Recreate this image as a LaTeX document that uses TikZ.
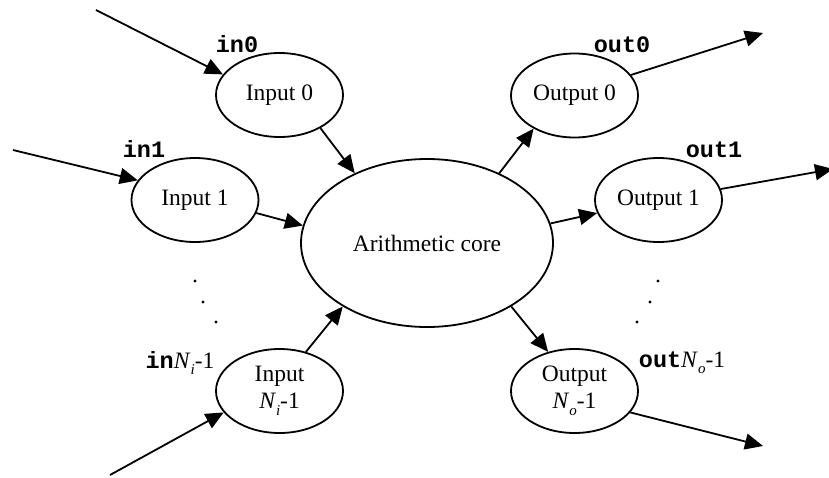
\documentclass[tikz,border=0pt]{standalone}
\usepackage{fontspec}
\setmainfont{Liberation Serif}
\newfontfamily\codefont{Liberation Mono}
\usetikzlibrary{shapes.geometric,arrows.meta}

% subscript set by hand so it scales with the large body text
\newcommand{\subidx}[1]{\raisebox{-0.28em}{\fontsize{15}{15}\selectfont\itshape #1}}
\newcommand{\code}[1]{{\codefont\bfseries #1}}

\begin{document}
\begin{tikzpicture}[x=1pt,y=-1pt,
  every node/.style={font=\fontsize{23.5}{27}\selectfont},
  unit/.style={ellipse,draw,line width=1.8pt,minimum width=127pt,minimum height=84pt,inner sep=0pt,align=center},
  core/.style={unit,minimum width=252pt,minimum height=168pt},
  arr/.style={line width=1.8pt,-{Triangle[length=18pt,width=16pt]}},
  port/.style={anchor=base,inner sep=0pt},
  dotmark/.style={circle,fill,inner sep=0pt,minimum size=3.4pt}]

\useasboundingbox (0,0) rectangle (829,477);

% processing units
\node[core] (core) at (427,243) {Arithmetic core};
\node[unit] (i0) at (279.5,95)  {Input 0};
\node[unit] (i1) at (195,200)   {Input 1};
\node[unit] (iN) at (279.5,391) {Input\\\textit{N}\subidx{i}-1};
\node[unit] (o0) at (574.5,95.5) {Output 0};
\node[unit] (o1) at (658.5,200)  {Output 1};
\node[unit] (oN) at (574.5,391)  {Output\\\textit{N}\subidx{o}-1};

% free ends of the port connectors
\coordinate (s0) at (96,10);
\coordinate (s1) at (13,150);
\coordinate (sN) at (110,475);
\coordinate (t0) at (763,33);
\coordinate (t1) at (833,169);
\coordinate (tN) at (763,446);

% ports
\draw[arr] (s0) -- (i0.160);
\draw[arr] (s1) -- (i1.161);
\draw[arr] (sN) -- (iN.201.6);
\draw[arr] (o0.20.8) -- (t0);
\draw[arr] (o1.10.1) -- (t1);
\draw[arr] (oN.-21.3) -- (tN);

% data flow through the core
\draw[arr] (i0.-39) -- (core.136);
\draw[arr] (i1.-12.9) -- (core.172.3);
\draw[arr] (iN.56.5) -- (core.217.8);
\draw[arr] (core.44.6) -- (o0.219);
\draw[arr] (core.9.2) -- (o1.192.6);
\draw[arr] (core.-37.7) -- (oN.124.2);

% port names
\node[port] (l0) at (237,52)  {\code{in0}};
\node[port] (l1) at (144,157) {\code{in1}};
\node[port] (lN) at (180,368) {\code{in}\textit{N}\subidx{i}-1};
\node[port] (m0) at (622,52)  {\code{out0}};
\node[port] (m1) at (714,157) {\code{out1}};
\node[port] (mN) at (682,367) {\code{out}\textit{N}\subidx{o}-1};

% ellipsis dots
\node[dotmark] (da1) at (195,281) {};
\node[dotmark] (da2) at (203,302) {};
\node[dotmark] (da3) at (216,322) {};
\node[dotmark] (db1) at (658,281) {};
\node[dotmark] (db2) at (650,302) {};
\node[dotmark] (db3) at (637,322) {};
\end{tikzpicture}
\end{document}
